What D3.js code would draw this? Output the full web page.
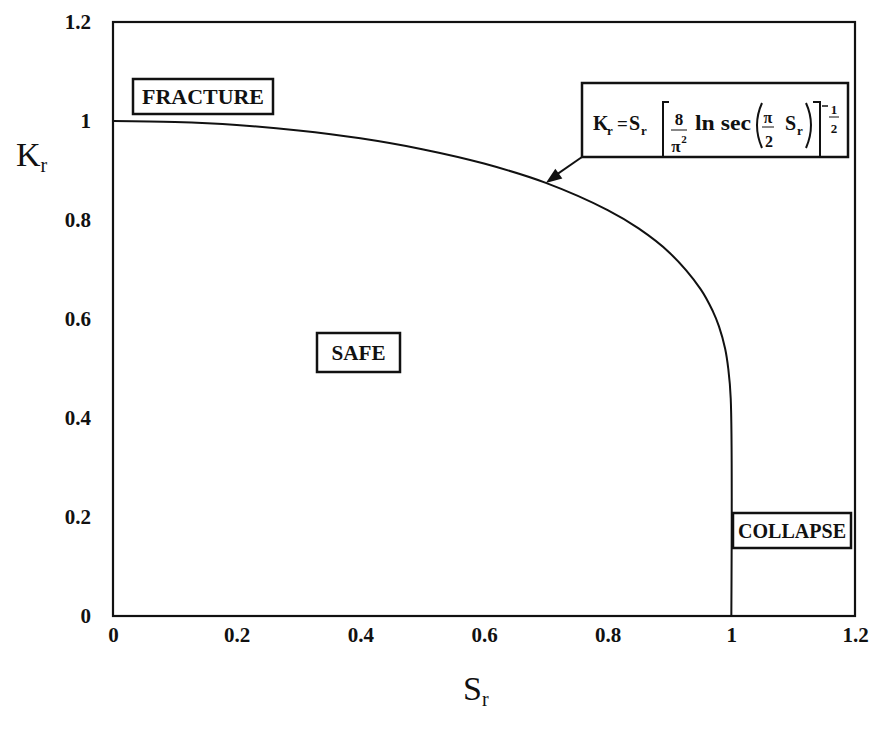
<!DOCTYPE html>
<meta charset="utf-8">
<title>Failure assessment diagram</title>
<script src="https://cdn.jsdelivr.net/npm/d3@7"></script>
<style>
body { margin: 0; background: #fff; }
text { font-family: "Liberation Serif", "DejaVu Serif", serif; fill: #111; }
</style>
<div id="chart"></div>
<script>
// curve
const srVals = [0, 0.1, 0.2, 0.3, 0.4, 0.5, 0.6, 0.7, 0.8, 0.85, 0.9, 0.95, 0.97, 0.98, 0.99, 0.995, 0.999, 1.0];
const krVals = [1.0, 0.998, 0.992, 0.981, 0.965, 0.943, 0.914, 0.875, 0.82, 0.783, 0.734, 0.661, 0.616, 0.585, 0.54, 0.50, 0.44, 0];
const xTicks = [0, 0.2, 0.4, 0.6, 0.8, 1, 1.2];
const yTicks = [0, 0.2, 0.4, 0.6, 0.8, 1, 1.2];
const regionNames = ["FRACTURE", "SAFE", "COLLAPSE"];

const W = 872, H = 731;
const margin = {top: 22, left: 113},
      width = 742,
      height = 594;

const svg = d3.select("#chart").append("svg")
    .attr("width", W).attr("height", H);
const g = svg.append("g").attr("transform", `translate(${margin.left},${margin.top})`);

const x = d3.scaleLinear().domain([0, 1.2]).range([0, width]);
const y = d3.scaleLinear().domain([0, 1.2]).range([height, 0]);

// axes (labels only, frame drawn separately)
const xAxis = g.append("g")
    .attr("transform", `translate(0,${height})`)
    .call(d3.axisBottom(x).tickValues(xTicks).tickSize(0).tickPadding(11).tickFormat(d3.format("~g")));
const yAxis = g.append("g")
    .call(d3.axisLeft(y).tickValues(yTicks).tickSize(0).tickPadding(22).tickFormat(d3.format("~g")));
[xAxis, yAxis].forEach(a => {
  a.select(".domain").remove();
  a.selectAll("text")
    .style("font-family", "'Liberation Serif', serif")
    .style("font-weight", "bold")
    .style("font-size", "21px")
    .attr("fill", "#111");
});

// frame
g.append("rect")
    .attr("width", width).attr("height", height)
    .attr("fill", "none").attr("stroke", "#111").attr("stroke-width", 2.2);

// curve
const pts = srVals.map((s, i) => [s, krVals[i]]);
g.append("path")
    .datum(pts)
    .attr("fill", "none")
    .attr("stroke", "#111")
    .attr("stroke-width", 2)
    .attr("d", d3.line().x(d => x(d[0])).y(d => y(d[1])).curve(d3.curveCatmullRom.alpha(0.5)));

// region labels in boxes
function labelBox(cx, cy, w, h, txt, tw) {
  svg.append("rect")
    .attr("x", cx - w / 2).attr("y", cy - h / 2)
    .attr("width", w).attr("height", h)
    .attr("fill", "#fff").attr("stroke", "#111").attr("stroke-width", 2.5);
  svg.append("text")
    .attr("x", cx).attr("y", cy + 7)
    .attr("text-anchor", "middle")
    .attr("textLength", tw).attr("lengthAdjust", "spacingAndGlyphs")
    .style("font-size", "20px").style("font-weight", "bold")
    .text(txt);
}
labelBox(203, 96.5, 140, 35, regionNames[0], 122);
labelBox(358.5, 352.5, 83, 39, regionNames[1], 54);
labelBox(792, 530.5, 118, 35, regionNames[2], 108);

// formula box + arrow
const fb = {x0: 582, y0: 83, x1: 848, y1: 157};
const tipX = margin.left + x(0.7), tipY = margin.top + y(krVals[7]);
svg.append("line")
    .attr("x1", fb.x0).attr("y1", fb.y1)
    .attr("x2", tipX + 6).attr("y2", tipY - 5)
    .attr("stroke", "#111").attr("stroke-width", 2);
const ang = Math.atan2(fb.y1 - tipY, fb.x0 - tipX);
const hl = 16, hw = 6;
const bx = tipX + hl * Math.cos(ang), by = tipY + hl * Math.sin(ang);
svg.append("path")
    .attr("d", `M${tipX},${tipY}L${bx - hw * Math.sin(ang)},${by + hw * Math.cos(ang)}L${bx + hw * Math.sin(ang)},${by - hw * Math.cos(ang)}Z`)
    .attr("fill", "#111");

svg.append("rect")
    .attr("x", fb.x0).attr("y", fb.y0)
    .attr("width", fb.x1 - fb.x0).attr("height", fb.y1 - fb.y0)
    .attr("fill", "#fff").attr("stroke", "#111").attr("stroke-width", 2.5);

const f = svg.append("g").style("font-weight", "bold");
function t(xp, yp, s, fs, anchor, len) {
  const el = f.append("text").attr("x", xp).attr("y", yp)
    .attr("text-anchor", anchor || "start")
    .style("font-size", fs + "px").text(s);
  if (len) el.attr("textLength", len).attr("lengthAdjust", "spacingAndGlyphs");
}
function stroke(d, w) {
  f.append("path").attr("d", d).attr("fill", "none")
    .attr("stroke", "#111").attr("stroke-width", w || 2);
}
const base = 130;
t(593, base, "K", 20); t(607, base + 5, "r", 13);
t(617, base, "=", 19);
t(629, base, "S", 20); t(641, base + 5, "r", 13);
stroke("M669,102 L663,102 L663,157");
t(679, 125, "8", 17, "middle");
stroke("M671,130 L687,130", 1);
t(676, 152, "π", 17, "middle"); t(684, 143, "2", 11, "middle");
t(695, base, "ln sec", 20, "start", 56);
stroke("M762,103 Q752,125 762,148");
t(768, 123, "π", 16, "middle");
stroke("M762,127 L774,127", 1);
t(769, 147, "2", 16, "middle");
t(785, base, "S", 20); t(797, base + 5, "r", 13);
stroke("M806,103 Q816,125 806,148");
stroke("M813,102 L820,102 L820,157");
stroke("M822,106 L828,106", 1.5);
t(834, 114, "1", 13, "middle");
stroke("M829,117 L839,117", 1);
t(834, 133, "2", 13, "middle");

// axis titles
const kr = svg.append("text").attr("x", 16).attr("y", 166).style("font-size", "34px");
kr.append("tspan").text("K");
kr.append("tspan").attr("dy", 6).style("font-size", "20px").text("r");
const sr = svg.append("text").attr("x", 463).attr("y", 700).style("font-size", "34px");
sr.append("tspan").text("S");
sr.append("tspan").attr("dy", 6).style("font-size", "20px").text("r");
</script>
